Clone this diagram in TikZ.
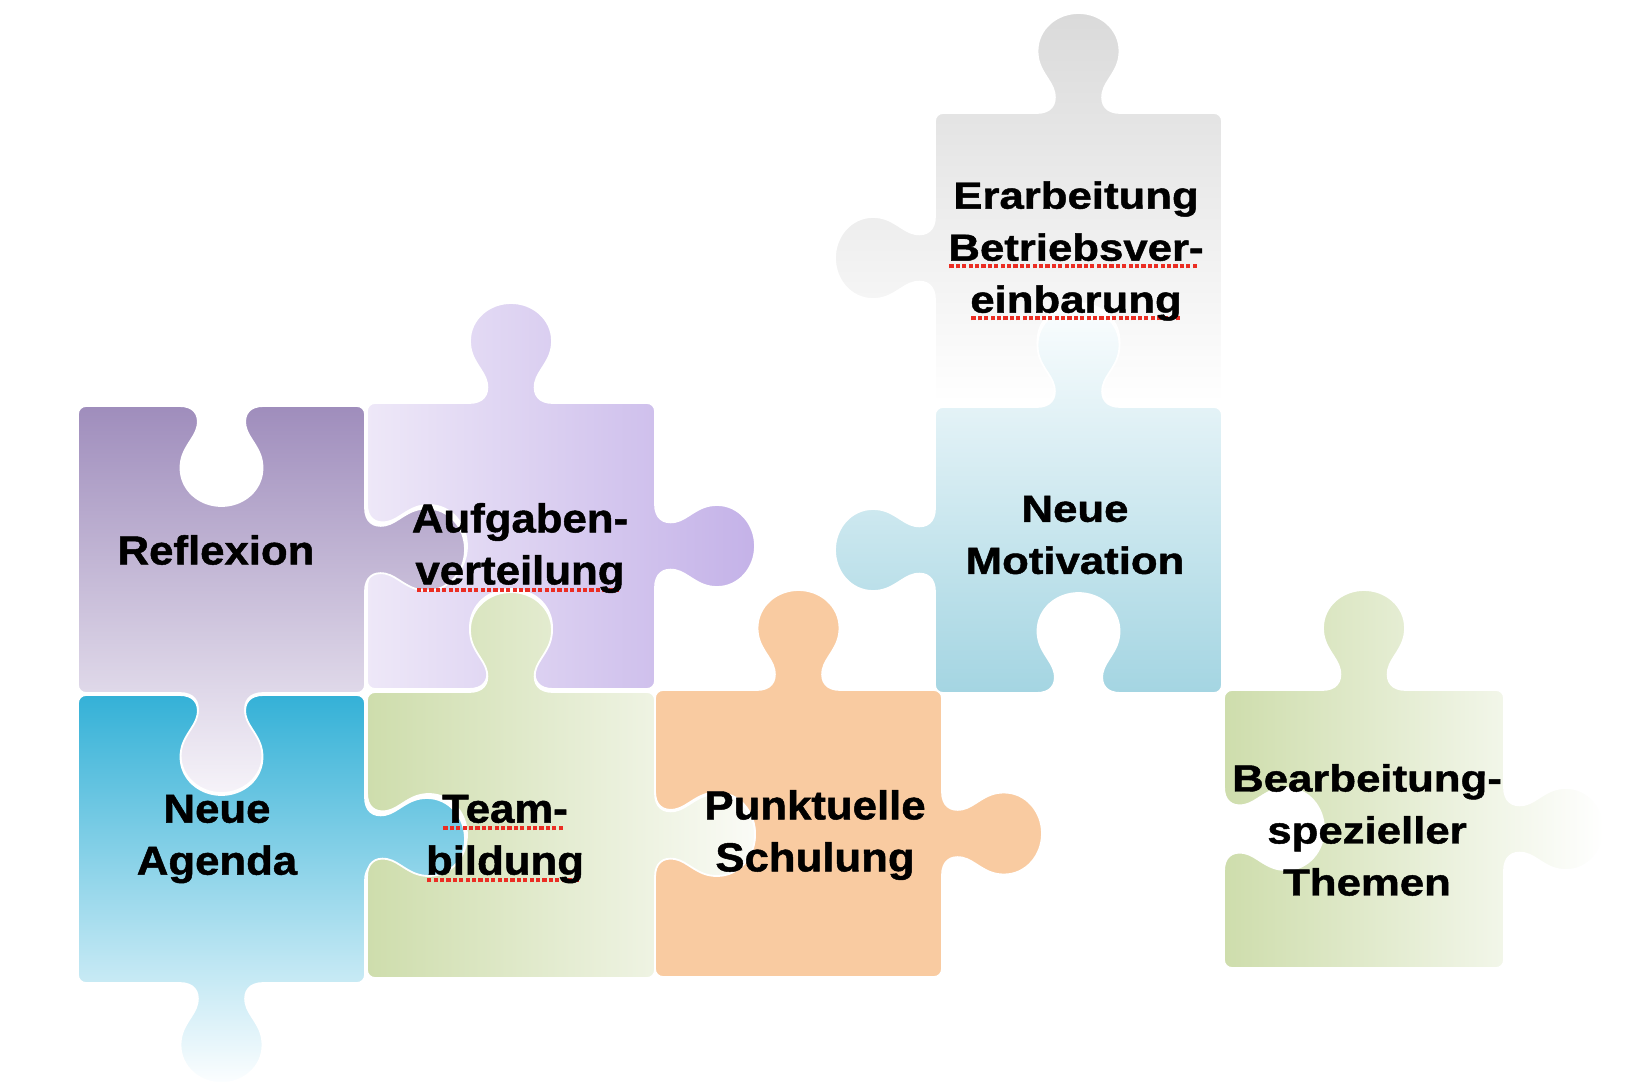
\documentclass[tikz,border=0pt]{standalone}
\usepackage{fontspec}
\setmainfont{Liberation Sans}
\newfontfamily\fontL{Liberation Sans}[FakeStretch=1.08, FakeBold=1.2]
\newfontfamily\fontR{Liberation Sans}[FakeStretch=1.16, FakeBold=1.2]

\definecolor{sqred}{RGB}{235,45,35}
\definecolor{refTop}{RGB}{159,141,188}
\definecolor{refBot}{RGB}{246,243,249}
\definecolor{aufL}{RGB}{238,232,248}
\definecolor{aufR}{RGB}{196,178,232}
\definecolor{ageTop}{RGB}{52,177,215}
\definecolor{ageBot}{RGB}{252,254,255}
\definecolor{teamL}{RGB}{206,221,172}
\definecolor{teamR}{RGB}{250,251,246}
\definecolor{orangeF}{RGB}{249,203,161}
\definecolor{erTop}{RGB}{218,218,218}
\definecolor{erBot}{RGB}{255,255,255}
\definecolor{motTop}{RGB}{250,253,254}
\definecolor{motBot}{RGB}{164,213,226}
\definecolor{bearL}{RGB}{206,221,172}
\definecolor{bearR}{RGB}{255,255,255}

% ---- puzzle piece path builder (pixel units, y downwards) ----
\newcommand\setedge[7]{\def\eX{#1}\def\eY{#2}\def\eax{#3}\def\eay{#4}\def\enx{#5}\def\eny{#6}\def\es{#7}}
\newcommand\q[2]{({\eX+(#1)*(\eax)+(\es)*(#2)*(\enx)},{\eY+(#1)*(\eay)+(\es)*(#2)*(\eny)})}
\newcommand\addedge{\edef\piecepath{\piecepath
 -- \q{-42}{0}
 .. controls \q{-28}{0} and \q{-22}{8} .. \q{-24}{20}
 .. controls \q{-27}{34} and \q{-41}{42} .. \q{-41}{62}
 .. controls \q{-41}{84} and \q{-22}{100} .. \q{0}{100}
 .. controls \q{22}{100} and \q{41}{84} .. \q{41}{62}
 .. controls \q{41}{42} and \q{27}{34} .. \q{24}{20}
 .. controls \q{22}{8} and \q{28}{0} .. \q{42}{0}}}
% #1 x0, #2 y0, #3 x1, #4 y1, #5..#8 top/right/bottom/left: 1 tab, -1 blank, 0 flat
\newcommand\mkpiece[8]{%
 \edef\piecepath{({#1+8},{#2})}%
 \ifnum#5=0 \else\setedge{(#1+#3)/2}{#2}{1}{0}{0}{-1}{#5}\addedge\fi
 \edef\piecepath{\piecepath -- ({#3-8},{#2}) .. controls ({#3-3.6},{#2}) and ({#3},{#2+3.6}) .. ({#3},{#2+8})}%
 \ifnum#6=0 \else\setedge{#3}{(#2+#4)/2}{0}{1}{1}{0}{#6}\addedge\fi
 \edef\piecepath{\piecepath -- ({#3},{#4-8}) .. controls ({#3},{#4-3.6}) and ({#3-3.6},{#4}) .. ({#3-8},{#4})}%
 \ifnum#7=0 \else\setedge{(#1+#3)/2}{#4}{-1}{0}{0}{1}{#7}\addedge\fi
 \edef\piecepath{\piecepath -- ({#1+8},{#4}) .. controls ({#1+3.6},{#4}) and ({#1},{#4-3.6}) .. ({#1},{#4-8})}%
 \ifnum#8=0 \else\setedge{#1}{(#2+#4)/2}{0}{-1}{-1}{0}{#8}\addedge\fi
 \edef\piecepath{\piecepath -- ({#1},{#2+8}) .. controls ({#1},{#2+3.6}) and ({#1+3.6},{#2}) .. ({#1+8},{#2}) -- cycle}%
}

% red spell-check underline
\newcommand\sq[1]{\setbox0=\hbox{#1}\rlap{\raisebox{-3.9pt}{\color{sqred}\leaders\hbox to 3.2pt{\hss\rule{2.1pt}{2.1pt}\hss}\hskip\wd0}}\box0}

\tikzset{
  piece/.style={draw=white, line width=0.9pt},
  lblL/.style={align=center, inner sep=0pt, text=black,
    font=\fontL\bfseries\fontsize{20.25}{26}\selectfont},
  lblR/.style={align=center, inner sep=0pt, text=black,
    font=\fontR\bfseries\fontsize{18.85}{26}\selectfont},
}

\begin{document}
\begin{tikzpicture}[x=0.5pt, y=-0.5pt]
\useasboundingbox (0,0) rectangle (1640,1092);

% Aufgabenverteilung
\mkpiece{367}{403}{655}{689}{1}{1}{-1}{-1}
\path[piece, left color=aufL, right color=aufR] \piecepath;
% Reflexion
\mkpiece{78}{406}{365}{693}{-1}{1}{1}{0}
\path[piece, top color=refTop, bottom color=refBot] \piecepath;
% Neue Agenda
\mkpiece{78}{695}{365}{983}{-1}{1}{1}{0}
\path[piece, top color=ageTop, bottom color=ageBot] \piecepath;
% Punktuelle Schulung
\mkpiece{655}{690}{942}{977}{1}{1}{0}{-1}
\path[piece, fill=orangeF] \piecepath;
% Teambildung
\mkpiece{367}{692}{655}{978}{1}{1}{0}{-1}
\path[piece, left color=teamL, right color=teamR] \piecepath;
% Erarbeitung Betriebsvereinbarung
\mkpiece{935}{113}{1222}{403}{1}{0}{-1}{1}
\path[piece, top color=erTop, bottom color=erBot] \piecepath;
% Neue Motivation
\mkpiece{935}{407}{1222}{693}{1}{0}{-1}{1}
\path[piece, top color=motTop, bottom color=motBot] \piecepath;
% Bearbeitung spezieller Themen
\mkpiece{1224}{690}{1504}{968}{1}{1}{0}{-1}
\path[piece, left color=bearL, right color=bearR] \piecepath;

% labels
\node[lblL] (tRef)  at (216,550) {Reflexion};
\node[lblL] (tAuf)  at (520,548) {Aufgaben-\\\sq{verteilung}};
\node[lblL] (tAge)  at (217,839) {Neue\\Agenda};
\node[lblL] (tTeam) at (505,839) {\sq{Team-}\\\sq{bildung}};
\node[lblL] (tPun)  at (815,835) {Punktuelle\\Schulung};
\node[lblR] (tErb)  at (1076,251) {Erarbeitung\\\sq{Betriebsver-}\\\sq{einbarung}};
\node[lblR] (tMot)  at (1075,535) {Neue\\Motivation};
\node[lblR] (tBea) at (1367,830) {Bearbeitung-\\spezieller\\Themen};
\end{tikzpicture}
\end{document}
